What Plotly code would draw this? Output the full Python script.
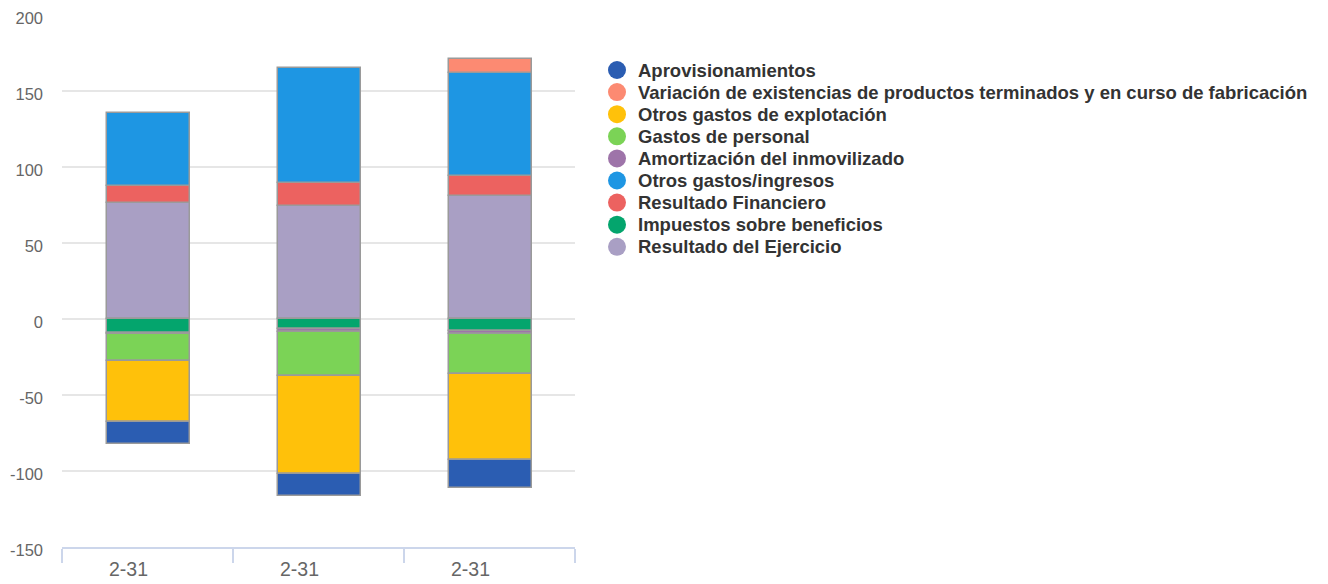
import plotly.graph_objects as go

# ---- data ----
periods = ["2-31", "2-31", "2-31"]
aprovisionamientos = [-14.9, -14.2, -18.2]
variacion_existencias = [None, None, 9.2]
otros_gastos_explotacion = [-39.7, -64.7, -57.0]
gastos_personal = [-17.9, -28.7, -26.4]
amortizacion = [-1.0, -1.8, -2.0]
otros_gastos_ingresos = [47.8, 75.2, 67.8]
resultado_financiero = [11.2, 15.4, 13.1]
impuestos = [-9.0, -6.8, -7.6]
resultado_ejercicio = [76.5, 74.3, 80.7]
y_ticks = [-150, -100, -50, 0, 50, 100, 150, 200]
y_tick_labels = ["-150", "-100", "-50", "0", "50", "100", "150", "200"]

# legend order (top to bottom)
series = [
    ("Aprovisionamientos", aprovisionamientos, "#2b5db2"),
    ("Variación de existencias de productos terminados y en curso de fabricación", variacion_existencias, "#fc8a72"),
    ("Otros gastos de explotación", otros_gastos_explotacion, "#ffc10a"),
    ("Gastos de personal", gastos_personal, "#7bd356"),
    ("Amortización del inmovilizado", amortizacion, "#9e74a9"),
    ("Otros gastos/ingresos", otros_gastos_ingresos, "#1e96e3"),
    ("Resultado Financiero", resultado_financiero, "#ec6260"),
    ("Impuestos sobre beneficios", impuestos, "#04a56d"),
    ("Resultado del Ejercicio", resultado_ejercicio, "#a99fc4"),
]

FONT = "Liberation Sans, Arial, sans-serif"
xs = list(range(len(periods)))
fig = go.Figure()

# stacking order is the reverse of legend order
for name, vals, color in reversed(series):
    fig.add_trace(go.Bar(
        x=xs, y=vals, name=name, showlegend=False,
        marker=dict(color=color, line=dict(color="#9a9a9a", width=1.5)),
        width=0.485, offset=-0.235,
    ))

# category labels
for i, lab in enumerate(periods):
    fig.add_annotation(
        x=i - 0.11, y=0, xref="x", yref="paper", yanchor="middle", yshift=-22,
        text=lab, showarrow=False,
        font=dict(family=FONT, size=19.5, color="#666666"),
    )

# custom legend (circle symbols, tight Highcharts-like spacing)
leg_x0 = 555   # px from plot-area left to circle centre
leg_y0 = 55    # px from plot-area top to first item centre
leg_dy = 22.1
for k, (name, vals, color) in enumerate(series):
    cy = -(leg_y0 + k * leg_dy)
    fig.add_shape(
        type="circle", xref="paper", yref="paper",
        xsizemode="pixel", ysizemode="pixel", xanchor=0, yanchor=1,
        x0=leg_x0 - 9, x1=leg_x0 + 9, y0=cy - 9, y1=cy + 9,
        fillcolor=color, line=dict(width=0),
    )
    fig.add_annotation(
        x=0, y=1, xref="paper", yref="paper",
        xanchor="left", yanchor="middle",
        xshift=leg_x0 + 19, yshift=cy,
        text="<b>" + name + "</b>", showarrow=False,
        font=dict(family=FONT, size=18.5, color="#333333"),
    )

fig.update_layout(
    width=1328, height=584,
    barmode="relative",
    bargap=0,
    showlegend=False,
    plot_bgcolor="white", paper_bgcolor="white",
    margin=dict(l=62, r=753, t=15, b=37, autoexpand=False),
    font=dict(family=FONT, color="#333333"),
    xaxis=dict(
        range=[-0.5, 2.5],
        tickvals=[-0.5, 0.5, 1.5, 2.5],
        ticktext=["", "", "", ""],
        ticks="outside", ticklen=14, tickcolor="#ccd6eb", tickwidth=1.5,
        showline=True, linecolor="#ccd6eb", linewidth=1.5,
        showgrid=False, zeroline=False, fixedrange=True,
    ),
    yaxis=dict(
        range=[-150, 200],
        tickvals=y_ticks,
        ticktext=y_tick_labels,
        ticks="", showline=False,
        gridcolor="#e6e6e6", gridwidth=1.5,
        zeroline=True, zerolinecolor="#e6e6e6", zerolinewidth=1.5,
        tickfont=dict(size=16.5, color="#666666", family=FONT),
        ticklabelstandoff=18,
        ticklabelshift=3,
        fixedrange=True,
    ),
)

fig.write_html(
    "out.html",
    config={"displayModeBar": False},
    post_script="document.body.style.margin='0';",
)
